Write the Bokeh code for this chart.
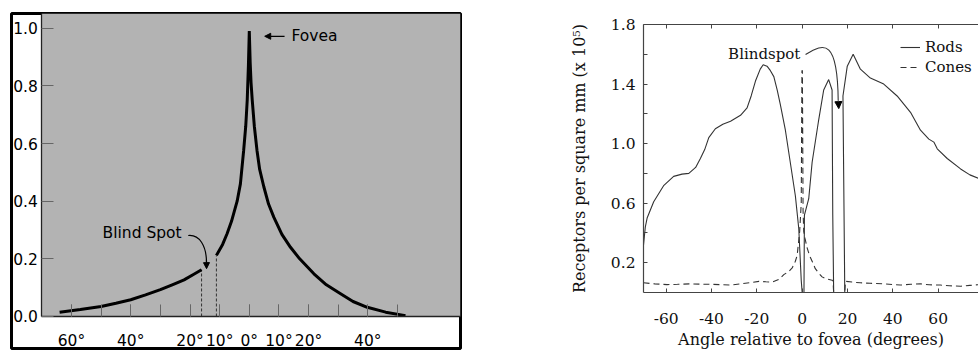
from bokeh.plotting import figure
from bokeh.layouts import row
from bokeh.models import (FixedTicker, LinearAxis, BoxAnnotation, Label, Arrow,
                          NormalHead, Range1d)
from bokeh.embed import file_html
from bokeh.resources import INLINE

# ---------------- Left panel data (relative cone density) ----------------
fovea_left_deg = [-64, -57, -50, -45, -40, -35, -30, -26, -22, -19, -16.1]
fovea_left_val = [0.015, 0.024, 0.035, 0.046, 0.058, 0.075, 0.093, 0.11, 0.127, 0.145, 0.162]
fovea_right_deg = [-11.1, -9, -7.5, -6, -4.1, -3, -1.9, -1.2, -0.7, -0.3, 0, 0.3, 0.6, 1.0,
                   1.7, 2.6, 3.5, 4.9, 6.5, 8.3, 11, 13.9, 17, 21.8, 26, 30.8, 35, 39.8, 46, 52.7]
fovea_right_val = [0.212, 0.25, 0.287, 0.33, 0.40, 0.46, 0.576, 0.66, 0.75, 0.87, 0.99, 0.88,
                   0.81, 0.75, 0.66, 0.576, 0.51, 0.45, 0.39, 0.344, 0.285, 0.24, 0.2, 0.148,
                   0.11, 0.079, 0.052, 0.032, 0.015, 0.003]
blind_deg = [-16.1, -11.1]
blind_top = [0.162, 0.212]
blind_bottom = [0, 0]

left_x_ticks = [-60, -40, -20, -10, 0, 10, 20, 40]
left_x_labels = ["60°", "40°", "20°", "10°", "0°", "10°", "20°", "40°"]
left_x_minor = [-60, -50, -40, -30, -20, -10, 0, 10, 20, 30, 40, 50]
left_y_ticks = [0, 0.2, 0.4, 0.6, 0.8, 1.0]
left_y_labels = ["0.0", "0.2", "0.4", "0.6", "0.8", "1.0"]

# ---------------- Right panel data (receptors per square mm) ----------------
rods_deg = [-70, -69.2, -68.4, -65.5, -61, -56.7, -53, -50, -47, -44.9,
            -43, -41.2, -38.3, -35, -31.6, -27.2, -24.3, -22.5, -20.6, -18.5,
            -17.2, -15.5, -14, -12.5, -11, -9.6, -7.4, -5.5, -3, -1.5,
            -0.4, 0, 0.8, 1.0, 2.9, 4.4, 7.3, 9.5, 11.7, 13.2,
            13.5, 13.9, 18.8, 18.0, 19.9, 22.5, 25.7, 30.1, 36, 41.9,
            47.8, 52.2, 55.9, 58.1, 59.6, 64, 69.9, 74, 78.2]
rods_val = [0.32, 0.44, 0.50, 0.61, 0.72, 0.78, 0.795, 0.80, 0.84, 0.90,
            0.96, 1.04, 1.10, 1.13, 1.15, 1.19, 1.24, 1.32, 1.42, 1.50,
            1.53, 1.52, 1.49, 1.45, 1.36, 1.26, 1.09, 0.90, 0.65, 0.43,
            0.08, 0, 0, 0.52, 0.63, 0.875, 1.16, 1.36, 1.43, 1.36,
            0.52, 0, 0, 1.32, 1.52, 1.60, 1.50, 1.44, 1.40, 1.32,
            1.21, 1.09, 1.03, 1.01, 0.965, 0.90, 0.83, 0.79, 0.765]
cones_deg = [-70, -65, -59.6, -55, -49.3, -44, -40, -35, -31.6, -27.2,
             -22, -19.1, -16, -13.2, -10, -8.1, -6, -4.4, -3, -2.2,
             -1.1, -0.4, -0.1, 0.1, 0.4, 0.7, 1.3, 2.2, 3.2, 4.4,
             5.8, 7.3, 8.8, 10.3, 13.2, 13.6, 13.9, 18.8, 19.1, 22,
             25.7, 30, 36, 43.3, 48, 52.2, 56, 61, 65, 70,
             74, 78]
cones_val = [0.065, 0.058, 0.053, 0.055, 0.058, 0.056, 0.055, 0.052, 0.05, 0.058,
             0.068, 0.075, 0.072, 0.07, 0.09, 0.12, 0.14, 0.165, 0.21, 0.25,
             0.41, 0.6, 1.49, 1.49, 0.55, 0.41, 0.36, 0.30, 0.25, 0.21,
             0.16, 0.13, 0.105, 0.093, 0.082, 0.08, 0, 0, 0.075, 0.07,
             0.065, 0.062, 0.058, 0.05, 0.055, 0.058, 0.052, 0.05, 0.045, 0.042,
             0.048, 0.053]

right_x_ticks = [-60, -40, -20, 0, 20, 40, 60]
right_x_labels = ["-60", "-40", "-20", "0", "20", "40", "60"]
right_y_ticks = [0.2, 0.6, 1.0, 1.4, 1.8]
right_y_labels = ["0.2", "0.6", "1.0", "1.4", "1.8"]
right_y_minor = [0.4, 0.8, 1.2, 1.6]

SANS = "DejaVu Sans"
SERIF = "DejaVu Serif"

# ======================= LEFT FIGURE =======================
p1 = figure(width=462, height=351, x_range=Range1d(-80.23, 71.26), y_range=Range1d(-0.111, 1.051),
            x_axis_location=None, y_axis_location=None, toolbar_location=None,
            output_backend="svg", min_border_left=11, min_border_top=13, min_border_right=2,
            min_border_bottom=3, background_fill_color="white",
            border_fill_color="white", outline_line_color="black", outline_line_width=3,
            frame_align=False)
p1.grid.grid_line_color = None

gray = BoxAnnotation(left=-70, bottom=0, fill_color="#b3b3b3", fill_alpha=1.0,
                     line_color=None, level="underlay")
p1.add_layout(gray)

yax = LinearAxis(fixed_location=-70, bounds=(0, 1.051),
                 ticker=FixedTicker(ticks=left_y_ticks),
                 major_label_overrides=dict(zip(left_y_ticks, left_y_labels)),
                 major_tick_in=12, major_tick_out=0, minor_tick_in=0, minor_tick_out=0,
                 major_label_standoff=4, axis_line_color="#222222", axis_line_width=1.3,
                 major_tick_line_color="#666666",
                 major_label_text_font=SANS, major_label_text_font_size="15.5px",
                 major_label_text_color="black")
p1.add_layout(yax, "left")

xax = LinearAxis(fixed_location=0, bounds=(-70, 71.26),
                 ticker=FixedTicker(ticks=left_x_ticks, minor_ticks=left_x_minor),
                 major_label_overrides=dict(zip(left_x_ticks, left_x_labels)),
                 major_tick_in=12, major_tick_out=0, minor_tick_in=12, minor_tick_out=0,
                 major_label_standoff=16, axis_line_color="#222222", axis_line_width=1.3,
                 major_tick_line_color="#666666", minor_tick_line_color="#666666",
                 major_label_text_font=SANS, major_label_text_font_size="15.5px",
                 major_label_text_color="black")
p1.add_layout(xax, "below")

p1.segment(x0=blind_deg, y0=blind_bottom, x1=blind_deg, y1=blind_top,
           line_color="#333333", line_width=1, line_dash="3 2")
p1.line(fovea_left_deg, fovea_left_val, line_color="black", line_width=3)
p1.line(fovea_right_deg, fovea_right_val, line_color="black", line_width=3)

p1.add_layout(Label(x=14.2, y=0.972, text="Fovea", text_align="left", text_baseline="middle",
                    text_font=SANS, text_font_size="15.5px", text_color="black"))
p1.add_layout(Arrow(end=NormalHead(size=6, fill_color="black", line_color="black"),
                    x_start=11.9, y_start=0.972, x_end=5.2, y_end=0.972,
                    line_color="black", line_width=1.2))
p1.add_layout(Label(x=-49.5, y=0.288, text="Blind Spot", text_align="left",
                    text_baseline="middle", text_font=SANS, text_font_size="15.5px",
                    text_color="black"))
p1.bezier(x0=[-20.6], y0=[0.281], x1=[-14.45], y1=[0.19], cx0=[-16.8], cy0=[0.285],
          cx1=[-14.5], cy1=[0.245], line_color="black", line_width=1.2)
p1.add_layout(Arrow(end=NormalHead(size=6, fill_color="black", line_color="black"),
                    x_start=-14.45, y_start=0.195, x_end=-14.42, y_end=0.166,
                    line_color="black", line_width=1.2))

# ======================= RIGHT FIGURE =======================
p2 = figure(width=516, height=351, x_range=Range1d(-70, 77.8), y_range=Range1d(0, 1.8),
            toolbar_location=None, output_backend="svg",
            min_border_left=181, min_border_top=24, min_border_right=0, min_border_bottom=58,
            outline_line_color=None, background_fill_color="white", border_fill_color="white",
            frame_align=False)
p2.grid.grid_line_color = None

p2.xaxis.ticker = FixedTicker(ticks=right_x_ticks)
p2.xaxis.major_label_overrides = dict(zip(right_x_ticks, right_x_labels))
p2.yaxis.ticker = FixedTicker(ticks=right_y_ticks, minor_ticks=right_y_minor)
p2.yaxis.major_label_overrides = dict(zip(right_y_ticks, right_y_labels))
for ax in (p2.xaxis, p2.yaxis):
    ax.major_tick_in = 4
    ax.major_tick_out = 0
    ax.minor_tick_in = 4
    ax.minor_tick_out = 0
    ax.axis_line_color = "#444444"
    ax.axis_line_width = 1.2
    ax.major_tick_line_color = "#444444"
    ax.minor_tick_line_color = "#444444"
    ax.major_label_text_font = SERIF
    ax.major_label_text_font_size = "15.5px"
    ax.major_label_text_color = "#111111"
    ax.axis_label_text_font = SERIF
    ax.axis_label_text_font_size = "16px"
    ax.axis_label_text_font_style = "normal"
    ax.axis_label_text_color = "#111111"
p2.xaxis.minor_tick_in = 0
p2.xaxis.major_label_standoff = 20
p2.xaxis.axis_label = "Angle relative to fovea (degrees)"
p2.xaxis.axis_label_standoff = 3
p2.yaxis.major_label_standoff = 8
p2.yaxis.axis_label = "Receptors per square mm (x 10⁵)"
p2.yaxis.axis_label_standoff = 19

top_ax = LinearAxis(ticker=FixedTicker(ticks=right_x_ticks), major_tick_in=4, major_tick_out=0,
                    minor_tick_in=0, minor_tick_out=0, major_label_text_font_size="1px",
                    major_label_text_color=None, major_label_text_alpha=0,
                    major_label_standoff=0, axis_line_color="#444444", axis_line_width=1.2,
                    major_tick_line_color="#444444")
p2.add_layout(top_ax, "above")

p2.line(rods_deg, rods_val, line_color="#333333", line_width=1.1, legend_label="Rods")
p2.line(cones_deg, cones_val, line_color="#333333", line_width=1.1, line_dash="6 4",
        legend_label="Cones")

p2.add_layout(Label(x=-0.8, y=1.6, text="Blindspot", text_align="right", text_baseline="middle",
                    text_font=SERIF, text_font_size="15px", text_color="#111111"))
p2.bezier(x0=[1.5], y0=[1.598], x1=[15.9], y1=[1.29], cx0=[10], cy0=[1.68], cx1=[15.6],
          cy1=[1.70], line_color="#333333", line_width=1.1)
p2.add_layout(Arrow(end=NormalHead(size=7, fill_color="black", line_color="black"),
                    x_start=15.95, y_start=1.29, x_end=16.15, y_end=1.235,
                    line_color="#333333", line_width=1.1))

lg = p2.legend[0]
lg.location = (257, 215)
lg.border_line_color = None
lg.background_fill_alpha = 0
lg.label_text_font = SERIF
lg.label_text_font_size = "15px"
lg.label_text_color = "#111111"
lg.glyph_width = 20
lg.glyph_height = 20
lg.label_height = 20
lg.label_standoff = 5
lg.padding = 0
lg.margin = 0
lg.spacing = 0

layout = row(p1, p2, spacing=0)
open("out.html", "w").write(file_html(layout, INLINE))
